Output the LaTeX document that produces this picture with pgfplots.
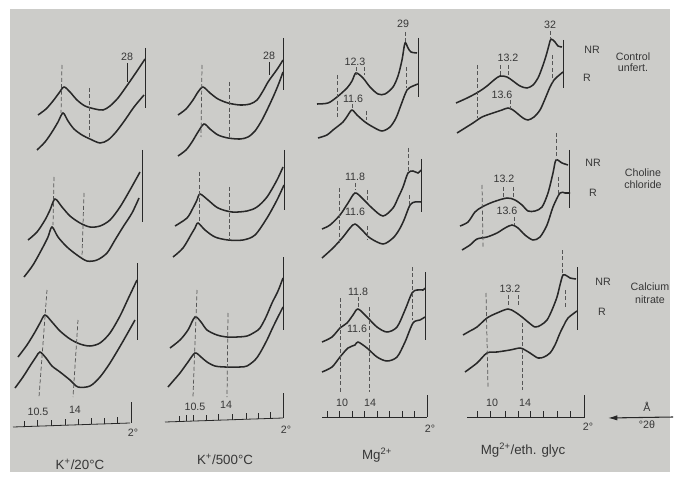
\documentclass[border=0pt]{standalone}
\usepackage{pgfplots}
\pgfplotsset{compat=1.18}
\usetikzlibrary{arrows.meta}
\usepackage{fontspec}
\setmainfont{Liberation Sans}
\definecolor{paper}{RGB}{204,204,201}
\definecolor{ink}{RGB}{40,40,40}
\definecolor{dashc}{RGB}{85,85,85}
\definecolor{txt}{RGB}{55,55,55}

\newcommand{\dashseg}[4]{\addplot[dsh] coordinates {(#1,#2) (#3,#4)};}
\newcommand{\solseg}[4]{\addplot[sol] coordinates {(#1,#2) (#3,#4)};}
\newcommand{\lab}[3]{\node[txt, font=\fontsize{8}{9}\selectfont] at (axis cs:#1,#2) {#3};}
\newcommand{\biglab}[3]{\node[txt, font=\fontsize{10}{11}\selectfont] at (axis cs:#1,#2) {#3};}

\begin{document}
\begin{tikzpicture}
\begin{axis}[
    width=507.75pt, height=357.75pt,
    scale only axis,
    xmin=0, xmax=677, ymin=0, ymax=477,
    y dir=reverse,
    hide axis,
    clip=false,
    tr/.style={smooth, tension=0.5, line width=1.15pt, color=ink, no marks},
    dsh/.style={dash pattern=on 3pt off 1.8pt, line width=0.55pt, color=dashc, no marks},
    sol/.style={line width=0.6pt, color=ink, no marks},
]
% paper
\fill[white] (axis cs:0,0) rectangle (axis cs:677,477);
\fill[paper] (axis cs:10,9) rectangle (axis cs:670,472);

% ---------- row 1 : control unfert. ----------
% K+/20C
\addplot[tr] coordinates {(38,115)(46,109)(53,101)(59,93)(64,87)(70,92)(77,100)(85,106)(95,109)(103,110)(110,106)(118,98)(126,87)(135,74)(145,59)};
\addplot[tr] coordinates {(37,150)(45,142)(52,132)(58,122)(63,113)(68,121)(74,129)(82,135)(90,139)(100,143)(108,140)(116,132)(125,120)(134,107)(144,95)};
\solseg{145}{48}{145}{108}
\dashseg{62}{65}{61}{113}
\dashseg{89}{88}{89}{138}
\solseg{127}{63}{127}{82}
\lab{127}{57}{28}
% K+/500C
\addplot[tr] coordinates {(178,115)(186,109)(193,100)(198,92)(203,87)(210,93)(218,99)(228,103)(240,105)(250,104)(257,100)(263,91)(268,82)(273,75)(278,68)(283,60)};
\addplot[tr] coordinates {(178,156)(186,150)(192,142)(198,132)(204,124)(210,129)(218,135)(228,138)(240,139)(248,137)(255,131)(262,120)(268,108)(274,95)(279,83)(283,72)};
\solseg{283}{38}{283}{90}
\dashseg{202}{65}{201}{137}
\dashseg{229}{82}{229}{138}
\solseg{269}{62}{269}{75}
\lab{269}{56}{28}
% Mg2+
\addplot[tr] coordinates {(317,104)(328,103)(337,97)(347,88)(352,81)(356,73)(363,78)(370,87)(378,94)(385,94)(393,87)(398,76)(402,60)(405,43)(408,48)(411,52)(417,53)};
\addplot[tr] coordinates {(318,138)(327,135)(333,130)(343,122)(348,115)(352,110)(357,115)(365,122)(373,127)(382,131)(390,127)(396,118)(401,105)(407,90)(413,86)(418,84)};
\solseg{418}{38}{418}{97}
\dashseg{337}{75}{337}{118}
\dashseg{406}{67}{406}{88}
\dashseg{356}{67}{356}{75}
\dashseg{364}{67}{364}{75}
\dashseg{405}{32}{405}{42}
\dashseg{366}{111}{366}{120}
\dashseg{352}{104}{352}{110}
\lab{355}{62}{12.3}
\lab{353}{99}{11.6}
\lab{403}{24}{29}
% Mg2+/eth. glyc
\addplot[tr] coordinates {(456,103)(465,99)(473,95)(480,91)(487,86)(494,80)(500,76)(507,77)(513,81)(520,86)(527,88)(533,85)(538,78)(542,68)(546,56)(549,45)(551,39)(555,42)(558,46)(562,47)};
\addplot[tr] coordinates {(457,133)(465,128)(473,123)(482,117)(493,113)(502,110)(508,108)(513,110)(518,114)(523,118)(528,120)(534,117)(540,110)(545,99)(550,87)(554,80)(557,77)(563,72)};
\solseg{563}{40}{563}{88}
\dashseg{477}{65}{477}{118}
\dashseg{510}{100}{510}{110}
\dashseg{552}{55}{552}{82}
\dashseg{500}{65}{500}{75}
\dashseg{508}{65}{508}{75}
\dashseg{550}{31}{550}{38}
\lab{508}{58}{13.2}
\lab{502}{95}{13.6}
\lab{550}{25}{32}
\lab{592}{50}{NR}
\lab{587}{78}{R}
\lab{633}{57}{Control}
\lab{633}{68}{unfert.}

% ---------- row 2 : choline chloride ----------
\addplot[tr] coordinates {(28,240)(37,232)(45,220)(50,210)(55,199)(62,207)(70,216)(80,223)(90,227)(100,226)(110,220)(120,207)(130,190)(140,172)};
\addplot[tr] coordinates {(24,277)(33,265)(43,247)(48,237)(52,227)(58,237)(67,247)(77,255)(87,261)(97,260)(107,253)(115,240)(123,227)(132,213)(139,198)};
\solseg{142}{150}{142}{222}
\dashseg{54}{177}{53}{225}
\dashseg{84}{193}{82}{257}
%
\addplot[tr] coordinates {(175,226)(187,218)(193,208)(197,200)(200,194)(208,200)(218,208)(232,212)(247,211)(257,207)(267,197)(277,180)(283,167)};
\addplot[tr] coordinates {(173,257)(183,248)(192,233)(195,228)(198,223)(205,230)(215,237)(228,240)(243,240)(255,235)(267,218)(277,200)(284,185)};
\solseg{284}{150}{284}{210}
\dashseg{199}{172}{199}{223}
\dashseg{229}{187}{229}{240}
%
\addplot[tr] coordinates {(322,229)(330,225)(340,215)(348,203)(355,193)(362,198)(372,208)(383,216)(393,208)(398,198)(403,187)(408,173)(413,171)(418,173)(421,170)};
\addplot[tr] coordinates {(322,258)(333,248)(343,237)(350,228)(355,224)(362,230)(370,238)(383,244)(393,238)(399,230)(404,220)(410,205)(415,202)(421,202)};
\solseg{421}{159}{421}{212}
\dashseg{339}{188}{339}{245}
\dashseg{367}{190}{367}{200}
\dashseg{367}{226}{367}{240}
\dashseg{408}{148}{408}{172}
\dashseg{355}{183}{355}{190}
\dashseg{409}{195}{409}{205}
\lab{355}{177}{11.8}
\lab{355}{212}{11.6}
%
\addplot[tr] coordinates {(460,226)(468,222)(475,212)(482,207)(493,202)(507,198)(515,200)(522,205)(528,211)(535,211)(542,207)(548,193)(553,173)(556,160)(562,163)(568,165)};
\addplot[tr] coordinates {(462,250)(470,245)(477,239)(487,237)(497,233)(505,228)(512,225)(518,228)(525,235)(533,240)(540,237)(547,225)(553,207)(560,193)(565,193)(570,193)};
\solseg{569}{150}{569}{208}
\dashseg{556}{133}{556}{160}
\dashseg{482}{185}{483}{247}
\dashseg{503}{187}{503}{198}
\dashseg{513}{187}{513}{198}
\dashseg{514}{217}{514}{225}
\dashseg{558}{177}{558}{197}
\lab{504}{179}{13.2}
\lab{507}{211}{13.6}
\lab{593}{163}{NR}
\lab{593}{193}{R}
\lab{643}{173}{Choline}
\lab{643}{185}{chloride}

% ---------- row 3 : calcium nitrate ----------
\addplot[tr] coordinates {(18,357)(27,345)(35,332)(40,323)(45,315)(52,322)(60,331)(70,339)(80,344)(90,346)(100,343)(110,333)(120,316)(128,299)(137,280)};
\addplot[tr] coordinates {(15,388)(23,377)(30,366)(36,357)(40,352)(46,358)(52,366)(60,372)(70,380)(78,387)(90,386)(100,377)(110,363)(122,343)(135,320)};
\solseg{137}{263}{137}{340}
\dashseg{47}{290}{39}{397}
\dashseg{78}{320}{73}{397}
%
\addplot[tr] coordinates {(170,348)(180,340)(188,330)(195,317)(201,322)(207,330)(217,335)(227,337)(237,337)(247,336)(255,332)(260,328)(266,317)(272,303)(278,291)(283,278)};
\addplot[tr] coordinates {(168,387)(174,380)(180,373)(188,362)(195,353)(201,357)(207,362)(215,366)(225,367)(240,367)(247,366)(255,360)(260,353)(267,340)(273,327)(283,307)};
\solseg{283}{257}{283}{330}
\dashseg{197}{290}{193}{397}
\dashseg{228}{313}{227}{397}
%
\addplot[tr] coordinates {(322,342)(332,337)(340,328)(347,323)(353,315)(358,309)(367,317)(377,327)(387,332)(397,327)(405,310)(412,293)(417,290)(423,290)(425,288)};
\addplot[tr] coordinates {(322,372)(332,367)(340,357)(348,348)(355,345)(358,342)(367,348)(377,357)(387,361)(397,357)(405,342)(413,323)(420,320)(425,317)};
\solseg{425}{272}{425}{340}
\dashseg{340}{298}{340}{393}
\dashseg{369}{307}{369}{392}
\dashseg{358}{297}{358}{307}
\dashseg{412}{267}{412}{320}
\lab{358}{292}{11.8}
\lab{357}{329}{11.6}
%
\addplot[tr] coordinates {(463,335)(470,331)(477,327)(487,318)(497,313)(508,309)(515,312)(522,317)(528,322)(535,327)(541,325)(547,320)(552,310)(557,297)(560,285)(563,275)(567,276)(570,278)(576,279)};
\addplot[tr] coordinates {(465,372)(477,363)(487,353)(497,352)(510,350)(520,348)(525,350)(530,353)(538,358)(544,357)(550,353)(555,345)(560,333)(564,325)(568,318)(577,311)};
\solseg{577}{267}{577}{330}
\dashseg{486}{293}{488}{387}
\dashseg{522}{323}{522}{390}
\dashseg{508}{295}{508}{305}
\dashseg{518}{295}{518}{305}
\dashseg{562}{250}{562}{273}
\dashseg{565}{290}{565}{307}
\lab{510}{289}{13.2}
\lab{603}{282}{NR}
\lab{602}{312}{R}
\lab{650}{287}{Calcium}
\lab{650}{300}{nitrate}

% ---------- scales ----------
\solseg{13}{427}{130}{423}
\solseg{131}{402}{131}{423}
\solseg{24}{427}{24}{421}
\solseg{37}{426}{37}{420}
\solseg{51}{426}{51}{420}
\solseg{65}{425}{65}{419}
\solseg{78}{425}{78}{419}
\solseg{91}{424}{91}{418}
\solseg{104}{424}{104}{418}
\solseg{117}{423}{117}{417}
\lab{38}{412}{10.5}
\lab{75}{410}{14}
\lab{133}{433}{2°}
\biglab{80}{464}{K\textsuperscript{+}/20°C}
%
\solseg{165}{422}{283}{418}
\solseg{283}{393}{283}{418}
\solseg{179}{422}{179}{416}
\solseg{186}{421}{186}{415}
\solseg{193}{421}{193}{415}
\solseg{206}{421}{206}{415}
\solseg{218}{420}{218}{414}
\solseg{232}{420}{232}{414}
\solseg{246}{419}{246}{413}
\solseg{258}{419}{258}{413}
\solseg{270}{418}{270}{412}
\lab{195}{407}{10.5}
\lab{226}{405}{14}
\lab{286}{430}{2°}
\biglab{225}{459}{K\textsuperscript{+}/500°C}
%
\solseg{322}{417}{427}{417}
\solseg{427}{395}{427}{417}
\solseg{327}{417}{327}{411}
\solseg{339}{417}{339}{411}
\solseg{352}{417}{352}{411}
\solseg{364}{417}{364}{411}
\solseg{377}{417}{377}{411}
\solseg{389}{417}{389}{411}
\solseg{402}{417}{402}{411}
\solseg{414}{417}{414}{411}
\lab{342}{403}{10}
\lab{370}{403}{14}
\lab{430}{429}{2°}
\biglab{377}{455}{Mg\textsuperscript{2+}}
%
\solseg{467}{417}{585}{417}
\solseg{584}{395}{584}{417}
\solseg{477}{417}{477}{411}
\solseg{490}{417}{490}{411}
\solseg{505}{417}{505}{411}
\solseg{518}{417}{518}{411}
\solseg{530}{417}{530}{411}
\solseg{543}{417}{543}{411}
\solseg{557}{417}{557}{411}
\solseg{570}{417}{570}{411}
\lab{492}{403}{10}
\lab{525}{403}{14}
\lab{588}{427}{2°}
\biglab{523}{450}{Mg\textsuperscript{2+}/eth. glyc}
% arrow
\draw[-{Latex[length=7pt,width=4pt]}, line width=0.8pt, ink] (axis cs:673,417) -- (axis cs:608,418);
\lab{647}{407}{Å}
\lab{647}{425}{°2θ}
\end{axis}
\end{tikzpicture}
\end{document}
